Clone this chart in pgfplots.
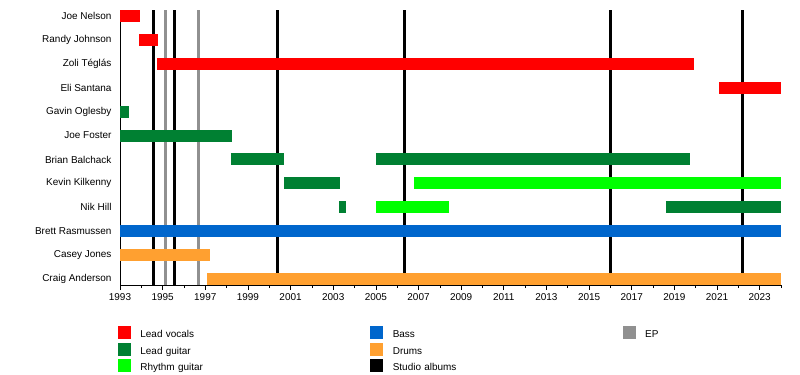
\documentclass[border=0pt]{standalone}
\usepackage{fontspec}
\setmainfont{Liberation Sans}
\usepackage{pgfplots}
\pgfplotsset{compat=1.18}
\definecolor{lv}{RGB}{255,0,0}
\definecolor{lg}{RGB}{0,128,50}
\definecolor{rg}{RGB}{0,255,0}
\definecolor{bs}{RGB}{0,102,204}
\definecolor{dr}{RGB}{255,160,48}
\definecolor{ep}{RGB}{144,144,144}
\definecolor{sa}{RGB}{0,0,0}
\pgfplotsset{sqleg/.style={legend image code/.code={\fill[#1] (0bp,-3.5bp) rectangle (12bp,8.5bp);}}}
\begin{document}
\fontsize{10}{12}\selectfont
\begin{tikzpicture}
\useasboundingbox (0,0) rectangle (800bp,375bp);
\begin{axis}[
  at={(120bp,90bp)}, anchor=south west,
  scale only axis, width=661bp, height=275bp,
  xmin=1993, xmax=2024, ymin=-0.25, ymax=11.25,
  axis x line*=bottom, axis y line*=left,
  axis line style={-, line width=0.8bp},
  xtick={1993,1995,...,2023}, minor xtick={1994,1996,...,2024},
  xticklabel style={/pgf/number format/1000 sep={}},
  /pgf/number format/assume math mode=true,
  tick align=outside, major tick length=5bp, minor tick length=3bp,
  tick style={black, line width=0.7bp},
  ytick={0,...,11},
  yticklabels={Craig Anderson, Casey Jones, Brett Rasmussen, Nik Hill, Kevin Kilkenny, Brian Balchack, Joe Foster, Gavin Oglesby, Eli Santana, Zoli Téglás, Randy Johnson, Joe Nelson},
  ytick style={draw=none},
  tick label style={font=\fontsize{10}{12}\selectfont},
  legend cell align=left,
  legend style={at={(axis description cs:-0.003,-0.150)}, anchor=north west,
    draw=none, fill=none, inner sep=0pt, outer sep=0pt,
    legend columns=3, row sep=3.5bp,
    nodes={inner sep=0pt, text width=230bp, align=left, font=\fontsize{10}{12}\selectfont},
    /tikz/every odd column/.append style={column sep=10bp}},
]
% studio albums (behind bars)
\addplot[sa, line width=3bp, forget plot] coordinates {(1994.56,-0.25) (1994.56,11.25)};
\addplot[sa, line width=3bp, forget plot] coordinates {(1995.55,-0.25) (1995.55,11.25)};
\addplot[sa, line width=3bp, forget plot] coordinates {(2000.38,-0.25) (2000.38,11.25)};
\addplot[sa, line width=3bp, forget plot] coordinates {(2006.35,-0.25) (2006.35,11.25)};
\addplot[sa, line width=3bp, forget plot] coordinates {(2016.0,-0.25) (2016.0,11.25)};
\addplot[sa, line width=3bp, forget plot] coordinates {(2022.2,-0.25) (2022.2,11.25)};
% EPs
\addplot[ep, line width=3bp, forget plot] coordinates {(1995.13,-0.25) (1995.13,11.25)};
\addplot[ep, line width=3bp, forget plot] coordinates {(1996.7,-0.25) (1996.7,11.25)};
% bars
\addplot[lv, line width=12bp, forget plot] coordinates {(1993.0,11) (1993.93,11)};
\addplot[lv, line width=12bp, forget plot] coordinates {(1993.9,10) (1994.8,10)};
\addplot[lv, line width=12bp, forget plot] coordinates {(1994.75,9) (2019.9,9)};
\addplot[lv, line width=12bp, forget plot] coordinates {(2021.1,8) (2024,8)};
\addplot[lg, line width=12bp, forget plot] coordinates {(1993.0,7) (1993.4,7)};
\addplot[lg, line width=12bp, forget plot] coordinates {(1993.0,6) (1998.25,6)};
\addplot[lg, line width=12bp, forget plot] coordinates {(1998.2,5) (2000.7,5)};
\addplot[lg, line width=12bp, forget plot] coordinates {(2005.0,5) (2019.75,5)};
\addplot[lg, line width=12bp, forget plot] coordinates {(2000.7,4) (2003.33,4)};
\addplot[rg, line width=12bp, forget plot] coordinates {(2006.8,4) (2024,4)};
\addplot[lg, line width=12bp, forget plot] coordinates {(2003.28,3) (2003.6,3)};
\addplot[rg, line width=12bp, forget plot] coordinates {(2005.0,3) (2008.45,3)};
\addplot[lg, line width=12bp, forget plot] coordinates {(2018.6,3) (2024,3)};
\addplot[bs, line width=12bp, forget plot] coordinates {(1993.0,2) (2024,2)};
\addplot[dr, line width=12bp, forget plot] coordinates {(1993.0,1) (1997.2,1)};
\addplot[dr, line width=12bp, forget plot] coordinates {(1997.1,0) (2024,0)};
% legend
\addlegendimage{sqleg=lv}\addlegendentry{Lead vocals}
\addlegendimage{sqleg=bs}\addlegendentry{Bass}
\addlegendimage{sqleg=ep}\addlegendentry{EP}
\addlegendimage{sqleg=lg}\addlegendentry{Lead guitar}
\addlegendimage{sqleg=dr}\addlegendentry{Drums}
\addlegendimage{empty legend}\addlegendentry{}
\addlegendimage{sqleg=rg}\addlegendentry{Rhythm guitar}
\addlegendimage{sqleg=sa}\addlegendentry{Studio albums}
\end{axis}
\end{tikzpicture}
\end{document}
